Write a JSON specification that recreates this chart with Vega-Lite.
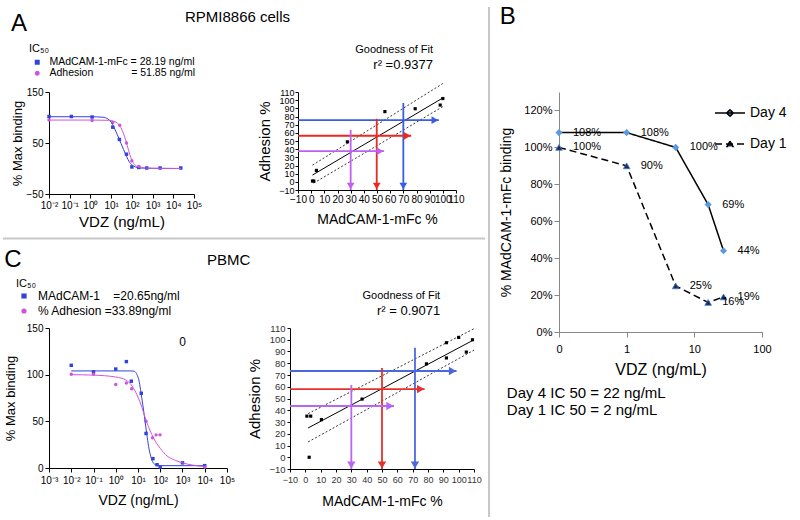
{
  "$schema": "https://vega.github.io/schema/vega-lite/v6.json",
  "padding": {"left": 2, "top": 5, "right": 0, "bottom": 0},
  "config": {
    "font": "Liberation Sans",
    "view": {"stroke": null},
    "axis": {"grid": false, "domainColor": "#000", "tickColor": "#000", "labelColor": "#000", "titleColor": "#000", "titleFontWeight": "normal", "labelOverlap": false, "labelFlush": false},
    "title": {"fontWeight": "normal", "color": "#000", "subtitleColor": "#000"},
    "legend": {"titleFontWeight": "normal", "labelColor": "#000", "titleColor": "#000"}
  },
  "datasets": {
    "aPts": [
      {"series": "MAdCAM-1-mFc", "dose": 0.01, "val": 102}, {"series": "MAdCAM-1-mFc", "dose": 0.12, "val": 102}, {"series": "MAdCAM-1-mFc", "dose": 1.2, "val": 101}, {"series": "MAdCAM-1-mFc", "dose": 12, "val": 81}, {"series": "MAdCAM-1-mFc", "dose": 25, "val": 57}, {"series": "MAdCAM-1-mFc", "dose": 55, "val": 28}, {"series": "MAdCAM-1-mFc", "dose": 100, "val": 3}, {"series": "MAdCAM-1-mFc", "dose": 215, "val": 2}, {"series": "MAdCAM-1-mFc", "dose": 520, "val": 1}, {"series": "MAdCAM-1-mFc", "dose": 2300, "val": 1}, {"series": "MAdCAM-1-mFc", "dose": 23000, "val": 1},
      {"series": "Adhesion", "dose": 0.01, "val": 95}, {"series": "Adhesion", "dose": 1.2, "val": 94}, {"series": "Adhesion", "dose": 12, "val": 90}, {"series": "Adhesion", "dose": 26, "val": 85}, {"series": "Adhesion", "dose": 55, "val": 50}, {"series": "Adhesion", "dose": 100, "val": 15}, {"series": "Adhesion", "dose": 215, "val": 4}
    ],
    "aCurve": [
      {"series": "MAdCAM-1-mFc", "dose": 0.01, "val": 101.5}, {"series": "MAdCAM-1-mFc", "dose": 1, "val": 101.5}, {"series": "MAdCAM-1-mFc", "dose": 4, "val": 100.5}, {"series": "MAdCAM-1-mFc", "dose": 7, "val": 97}, {"series": "MAdCAM-1-mFc", "dose": 10, "val": 91}, {"series": "MAdCAM-1-mFc", "dose": 14, "val": 80}, {"series": "MAdCAM-1-mFc", "dose": 20, "val": 66}, {"series": "MAdCAM-1-mFc", "dose": 25, "val": 57}, {"series": "MAdCAM-1-mFc", "dose": 30, "val": 49}, {"series": "MAdCAM-1-mFc", "dose": 40, "val": 37}, {"series": "MAdCAM-1-mFc", "dose": 55, "val": 24}, {"series": "MAdCAM-1-mFc", "dose": 75, "val": 13}, {"series": "MAdCAM-1-mFc", "dose": 100, "val": 7}, {"series": "MAdCAM-1-mFc", "dose": 150, "val": 3}, {"series": "MAdCAM-1-mFc", "dose": 250, "val": 1}, {"series": "MAdCAM-1-mFc", "dose": 1000, "val": 0.3}, {"series": "MAdCAM-1-mFc", "dose": 23000, "val": 0},
      {"series": "Adhesion", "dose": 0.01, "val": 95}, {"series": "Adhesion", "dose": 1, "val": 95}, {"series": "Adhesion", "dose": 8, "val": 94.5}, {"series": "Adhesion", "dose": 15, "val": 92}, {"series": "Adhesion", "dose": 20, "val": 89}, {"series": "Adhesion", "dose": 30, "val": 80}, {"series": "Adhesion", "dose": 40, "val": 68}, {"series": "Adhesion", "dose": 50, "val": 56}, {"series": "Adhesion", "dose": 60, "val": 45}, {"series": "Adhesion", "dose": 80, "val": 27}, {"series": "Adhesion", "dose": 100, "val": 16}, {"series": "Adhesion", "dose": 150, "val": 6}, {"series": "Adhesion", "dose": 250, "val": 2}, {"series": "Adhesion", "dose": 1000, "val": 0.5}, {"series": "Adhesion", "dose": 23000, "val": 0}
    ],
    "aFit": [
      {"type": "fit", "x": 1, "y": 8.3}, {"type": "fit", "x": 100, "y": 102.7},
      {"type": "upper", "x": 1, "y": 20.4}, {"type": "upper", "x": 100, "y": 120.4},
      {"type": "lower", "x": 1.9, "y": -1.6}, {"type": "lower", "x": 100.4, "y": 92.5}
    ],
    "aScat": [
      {"x": 1, "y": 1}, {"x": 2, "y": 1}, {"x": 4, "y": 14}, {"x": 27.5, "y": 49}, {"x": 56, "y": 86}, {"x": 79, "y": 89.5}, {"x": 98, "y": 94}, {"x": 100, "y": 102}
    ],
    "aArr": [
      {"level": "70", "dir": "h", "x": -10, "y": 75.5, "xe": 97, "ye": 75.5},
      {"level": "70", "dir": "v", "x": 70, "y": 96.5, "xe": 70, "ye": -10},
      {"level": "50", "dir": "h", "x": -10, "y": 56.4, "xe": 76, "ye": 56.4},
      {"level": "50", "dir": "v", "x": 49.8, "y": 77.2, "xe": 49.8, "ye": -10},
      {"level": "30", "dir": "h", "x": -10, "y": 37.6, "xe": 55.4, "ye": 37.6},
      {"level": "30", "dir": "v", "x": 30, "y": 63.6, "xe": 30, "ye": -10}
    ],
    "cPts": [
      {"series": "MAdCAM-1", "dose": 0.01, "val": 110}, {"series": "MAdCAM-1", "dose": 0.1, "val": 103}, {"series": "MAdCAM-1", "dose": 1, "val": 106}, {"series": "MAdCAM-1", "dose": 3, "val": 114}, {"series": "MAdCAM-1", "dose": 5, "val": 93}, {"series": "MAdCAM-1", "dose": 14, "val": 80}, {"series": "MAdCAM-1", "dose": 23, "val": 37}, {"series": "MAdCAM-1", "dose": 47, "val": 10}, {"series": "MAdCAM-1", "dose": 72, "val": 3.5}, {"series": "MAdCAM-1", "dose": 100, "val": 1}, {"series": "MAdCAM-1", "dose": 1000, "val": 5.5}, {"series": "MAdCAM-1", "dose": 10000, "val": 2.5},
      {"series": "% Adhesion", "dose": 0.01, "val": 100.5}, {"series": "% Adhesion", "dose": 0.1, "val": 100.5}, {"series": "% Adhesion", "dose": 1, "val": 89.5}, {"series": "% Adhesion", "dose": 3, "val": 91}, {"series": "% Adhesion", "dose": 5.2, "val": 85}, {"series": "% Adhesion", "dose": 23, "val": 50}, {"series": "% Adhesion", "dose": 45, "val": 32.5}, {"series": "% Adhesion", "dose": 65, "val": 35.5}, {"series": "% Adhesion", "dose": 98, "val": 35.5}, {"series": "% Adhesion", "dose": 10000, "val": 1}
    ],
    "cCurve": [
      {"series": "MAdCAM-1", "dose": 0.01, "val": 104}, {"series": "MAdCAM-1", "dose": 1, "val": 104}, {"series": "MAdCAM-1", "dose": 5, "val": 104}, {"series": "MAdCAM-1", "dose": 7, "val": 103.5}, {"series": "MAdCAM-1", "dose": 9, "val": 100}, {"series": "MAdCAM-1", "dose": 11, "val": 94}, {"series": "MAdCAM-1", "dose": 13, "val": 84}, {"series": "MAdCAM-1", "dose": 15, "val": 74}, {"series": "MAdCAM-1", "dose": 18, "val": 61}, {"series": "MAdCAM-1", "dose": 21, "val": 49}, {"series": "MAdCAM-1", "dose": 25, "val": 36}, {"series": "MAdCAM-1", "dose": 30, "val": 23}, {"series": "MAdCAM-1", "dose": 36, "val": 14}, {"series": "MAdCAM-1", "dose": 45, "val": 7}, {"series": "MAdCAM-1", "dose": 60, "val": 3.5}, {"series": "MAdCAM-1", "dose": 100, "val": 2.5}, {"series": "MAdCAM-1", "dose": 10000, "val": 2.5},
      {"series": "% Adhesion", "dose": 0.01, "val": 100}, {"series": "% Adhesion", "dose": 0.1, "val": 99.5}, {"series": "% Adhesion", "dose": 1, "val": 97.5}, {"series": "% Adhesion", "dose": 3, "val": 94}, {"series": "% Adhesion", "dose": 5, "val": 89}, {"series": "% Adhesion", "dose": 10, "val": 76}, {"series": "% Adhesion", "dose": 15, "val": 65}, {"series": "% Adhesion", "dose": 23, "val": 51}, {"series": "% Adhesion", "dose": 35, "val": 40}, {"series": "% Adhesion", "dose": 50, "val": 32}, {"series": "% Adhesion", "dose": 100, "val": 21}, {"series": "% Adhesion", "dose": 200, "val": 13}, {"series": "% Adhesion", "dose": 500, "val": 8}, {"series": "% Adhesion", "dose": 1000, "val": 5.5}, {"series": "% Adhesion", "dose": 3000, "val": 3}, {"series": "% Adhesion", "dose": 10000, "val": 1.5}
    ],
    "cTxt": [{"dose": 1000, "val": 135, "t": "0"}],
    "cFit": [
      {"type": "fit", "x": 1.8, "y": 24.9}, {"type": "fit", "x": 110, "y": 100},
      {"type": "upper", "x": 1.8, "y": 37.1}, {"type": "upper", "x": 110, "y": 109.4},
      {"type": "lower", "x": 1.8, "y": 13}, {"type": "lower", "x": 110, "y": 91.2}
    ],
    "cScat": [
      {"x": 1, "y": 35}, {"x": 3.5, "y": 35}, {"x": 2.5, "y": 0}, {"x": 10.5, "y": 32}, {"x": 37, "y": 49.5}, {"x": 79, "y": 79.5}, {"x": 92, "y": 97.5}, {"x": 92, "y": 84.5}, {"x": 100, "y": 102}, {"x": 105, "y": 89.5}, {"x": 109, "y": 100}
    ],
    "cArr": [
      {"level": "70", "dir": "h", "x": -10, "y": 73.4, "xe": 98.6, "ye": 73.4},
      {"level": "70", "dir": "v", "x": 71.5, "y": 93.2, "xe": 71.5, "ye": -10},
      {"level": "50", "dir": "h", "x": -10, "y": 58, "xe": 77.8, "ye": 58},
      {"level": "50", "dir": "v", "x": 50, "y": 76, "xe": 50, "ye": -10},
      {"level": "30", "dir": "h", "x": -10, "y": 43.6, "xe": 57.8, "ye": 43.6},
      {"level": "30", "dir": "v", "x": 30, "y": 61.5, "xe": 30, "ye": -10}
    ],
    "b": [
      {"day": "Day 4", "dose": 0.1, "pct": 1.08}, {"day": "Day 4", "dose": 1, "pct": 1.08}, {"day": "Day 4", "dose": 5.3, "pct": 1.0}, {"day": "Day 4", "dose": 16, "pct": 0.69}, {"day": "Day 4", "dose": 27, "pct": 0.44},
      {"day": "Day 1", "dose": 0.1, "pct": 1.0}, {"day": "Day 1", "dose": 1, "pct": 0.9}, {"day": "Day 1", "dose": 5.3, "pct": 0.25}, {"day": "Day 1", "dose": 16, "pct": 0.16}, {"day": "Day 1", "dose": 27, "pct": 0.19}
    ]
  },
  "resolve": {"scale": {"color": "independent", "shape": "independent", "strokeDash": "independent"}},
  "spacing": 2,
  "hconcat": [
    {
      "spacing": 8,
      "resolve": {"scale": {"color": "independent", "shape": "independent", "strokeDash": "independent"}},
      "vconcat": [
        {
          "title": {"text": "RPMI8866 cells", "fontSize": 15, "anchor": "middle", "dy": 17},
          "spacing": 55,
          "resolve": {"scale": {"color": "independent", "shape": "independent", "strokeDash": "independent"}},
          "hconcat": [
            {
              "width": 145, "height": 102,
              "title": {"text": "A", "anchor": "start", "frame": "bounds", "fontSize": 24, "offset": 7},
              "layer": [
                {
                  "data": {"name": "aPts"},
                  "mark": {"type": "point", "filled": true, "size": 12, "opacity": 1},
                  "encoding": {
                    "x": {"field": "dose", "type": "quantitative", "scale": {"type": "log", "domain": [0.01, 100000], "nice": false},
                      "axis": {"values": [0.01, 0.1, 1, 10, 100, 1000, 10000, 100000], "labelExpr": "'10' + ['⁻³','⁻²','⁻¹','⁰','¹','²','³','⁴','⁵'][round(log(datum.value)/LN10)+3]", "title": "VDZ (ng/mL)", "titleFontSize": 15, "labelFontSize": 10, "tickSize": 4, "labelPadding": 2, "titlePadding": 4}},
                    "y": {"field": "val", "type": "quantitative", "scale": {"domain": [-50, 150], "nice": false},
                      "axis": {"values": [-50, 0, 50, 100, 150], "title": "% Max binding", "titleFontSize": 13, "labelFontSize": 10, "tickSize": 4, "titlePadding": 2}},
                    "color": {"field": "series", "type": "nominal", "scale": {"domain": ["MAdCAM-1-mFc", "Adhesion"], "range": ["#3342dc", "#cf55db"]},
                      "legend": {"orient": "none", "legendX": -20, "legendY": -49, "title": "IC₅₀", "titleFontSize": 11, "titlePadding": 3, "labelFontSize": 10.5, "rowPadding": 0, "symbolSize": 12, "symbolOffset": 3, "labelOffset": 7, "labelLimit": 300,
                        "labelExpr": "datum.label === 'MAdCAM-1-mFc' ? 'MAdCAM-1-mFc = 28.19 ng/ml' : 'Adhesion\u00a0\u00a0\u00a0\u00a0\u00a0\u00a0\u00a0\u00a0\u00a0\u00a0\u00a0\u00a0 = 51.85 ng/ml'"}},
                    "shape": {"field": "series", "type": "nominal", "scale": {"domain": ["MAdCAM-1-mFc", "Adhesion"], "range": ["square", "circle"]}, "legend": null}
                  }
                },
                {
                  "data": {"name": "aCurve"},
                  "mark": {"type": "line", "interpolate": "monotone", "strokeWidth": 1},
                  "encoding": {
                    "x": {"field": "dose", "type": "quantitative"},
                    "y": {"field": "val", "type": "quantitative"},
                    "color": {"field": "series", "type": "nominal"}
                  }
                }
              ]
            },
            {
              "width": 158, "height": 98,
              "title": {"text": "Goodness of Fit", "subtitle": "r² =0.9377", "anchor": "end", "fontSize": 11, "subtitleFontSize": 13, "subtitlePadding": 4, "offset": 10, "dx": -31},
              "encoding": {
                "x": {"field": "x", "type": "quantitative", "scale": {"domain": [-10, 110], "nice": false},
                  "axis": {"values": [-10, 0, 10, 20, 30, 40, 50, 60, 70, 80, 90, 100, 110], "title": "MAdCAM-1-mFc %", "titleFontSize": 14, "labelFontSize": 10, "tickSize": 3, "labelPadding": 1, "titlePadding": 8}},
                "y": {"field": "y", "type": "quantitative", "scale": {"domain": [-10, 110], "nice": false},
                  "axis": {"values": [-10, 0, 10, 20, 30, 40, 50, 60, 70, 80, 90, 100, 110], "title": "Adhesion %", "titleFontSize": 15, "labelFontSize": 9, "tickSize": 3, "labelPadding": 1, "titlePadding": 6}}
              },
              "layer": [
                {"data": {"name": "aFit"}, "transform": [{"filter": "datum.type === 'fit'"}], "mark": {"type": "line", "color": "#000", "strokeWidth": 1}},
                {"data": {"name": "aFit"}, "transform": [{"filter": "datum.type !== 'fit'"}], "mark": {"type": "line", "color": "#000", "strokeWidth": 0.8, "strokeDash": [2, 2]}, "encoding": {"detail": {"field": "type"}}},
                {"data": {"name": "aScat"}, "mark": {"type": "square", "color": "#000", "size": 10, "opacity": 1}},
                {"data": {"name": "aArr"}, "mark": {"type": "rule", "strokeWidth": 1.8},
                  "encoding": {"x2": {"field": "xe"}, "y2": {"field": "ye"},
                    "color": {"field": "level", "type": "nominal", "scale": {"domain": ["30", "50", "70"], "range": ["#c160f0", "#ea2a22", "#3b5de6"]}, "legend": null}}},
                {"data": {"name": "aArr"}, "transform": [{"filter": "datum.dir === 'h'"}], "mark": {"type": "point", "shape": "triangle-right", "filled": true, "size": 60, "opacity": 1, "xOffset": -4},
                  "encoding": {"x": {"field": "xe", "type": "quantitative", "title": "MAdCAM-1-mFc %"}, "y": {"field": "ye", "type": "quantitative", "title": "Adhesion %"}, "color": {"field": "level", "type": "nominal", "legend": null}}},
                {"data": {"name": "aArr"}, "transform": [{"filter": "datum.dir === 'v'"}], "mark": {"type": "point", "shape": "triangle-down", "filled": true, "size": 60, "opacity": 1, "yOffset": -4},
                  "encoding": {"x": {"field": "xe", "type": "quantitative", "title": "MAdCAM-1-mFc %"}, "y": {"field": "ye", "type": "quantitative", "title": "Adhesion %"}, "color": {"field": "level", "type": "nominal", "legend": null}}}
              ]
            }
          ]
        },
        {
          "width": 436, "height": 1,
          "data": {"values": [{"a": 0, "b": 1, "v": 0}]},
          "mark": {"type": "rule", "color": "#c8c8c8", "strokeWidth": 2, "xOffset": -46},
          "encoding": {
            "x": {"field": "a", "type": "quantitative", "scale": {"domain": [0, 1]}, "axis": null},
            "x2": {"field": "b"},
            "y": {"field": "v", "type": "quantitative", "axis": null}
          }
        },
        {
          "title": {"text": "PBMC", "fontSize": 15, "anchor": "middle", "dy": 24, "dx": -14},
          "spacing": 12,
          "resolve": {"scale": {"color": "independent", "shape": "independent", "strokeDash": "independent"}},
          "hconcat": [
            {
              "width": 178, "height": 140,
              "title": {"text": "C", "anchor": "start", "frame": "bounds", "fontSize": 24, "offset": 6},
              "layer": [
                {
                  "data": {"name": "cPts"},
                  "mark": {"type": "point", "filled": true, "size": 12, "opacity": 1},
                  "encoding": {
                    "x": {"field": "dose", "type": "quantitative", "scale": {"type": "log", "domain": [0.001, 100000], "nice": false},
                      "axis": {"values": [0.001, 0.01, 0.1, 1, 10, 100, 1000, 10000, 100000], "labelExpr": "'10' + ['⁻³','⁻²','⁻¹','⁰','¹','²','³','⁴','⁵'][round(log(datum.value)/LN10)+3]", "title": "VDZ (ng/mL)", "titleFontSize": 14, "labelFontSize": 10, "tickSize": 4, "labelPadding": 3, "titlePadding": 8}},
                    "y": {"field": "val", "type": "quantitative", "scale": {"domain": [0, 150], "nice": false},
                      "axis": {"values": [0, 50, 100, 150], "title": "% Max binding", "titleFontSize": 13, "labelFontSize": 10, "tickSize": 4, "titlePadding": 9}},
                    "color": {"field": "series", "type": "nominal", "scale": {"domain": ["MAdCAM-1", "% Adhesion"], "range": ["#3342dc", "#cf55db"]},
                      "legend": {"orient": "none", "legendX": -33, "legendY": -50, "title": "IC₅₀", "titleFontSize": 11, "titlePadding": 1, "labelFontSize": 12, "rowPadding": 3, "symbolSize": 14, "symbolOffset": 2, "labelOffset": 8, "labelLimit": 300,
                        "labelExpr": "datum.label === 'MAdCAM-1' ? 'MAdCAM-1\u00a0\u00a0\u00a0 =20.65ng/ml' : '% Adhesion =33.89ng/ml'",
                        "encode": {"symbols": {"update": {"shape": {"signal": "datum.value === 'MAdCAM-1' ? 'square' : 'circle'"}}}}}},
                    "shape": {"field": "series", "type": "nominal", "scale": {"domain": ["MAdCAM-1", "% Adhesion"], "range": ["square", "circle"]}, "legend": null}
                  }
                },
                {
                  "data": {"name": "cCurve"},
                  "mark": {"type": "line", "interpolate": "monotone", "strokeWidth": 1},
                  "encoding": {
                    "x": {"field": "dose", "type": "quantitative"},
                    "y": {"field": "val", "type": "quantitative"},
                    "color": {"field": "series", "type": "nominal"}
                  }
                },
                {
                  "data": {"name": "cTxt"},
                  "mark": {"type": "text", "fontSize": 12, "color": "#000"},
                  "encoding": {
                    "x": {"field": "dose", "type": "quantitative"},
                    "y": {"field": "val", "type": "quantitative"},
                    "text": {"field": "t"}
                  }
                }
              ]
            },
            {
              "width": 184, "height": 141,
              "title": {"text": "Goodness of Fit", "subtitle": "r² = 0.9071", "anchor": "end", "fontSize": 11, "subtitleFontSize": 13, "subtitlePadding": 4, "offset": 5, "dx": -41},
              "encoding": {
                "x": {"field": "x", "type": "quantitative", "scale": {"domain": [-10, 110], "nice": false},
                  "axis": {"values": [-10, 0, 10, 20, 30, 40, 50, 60, 70, 80, 90, 100, 110], "title": "MAdCAM-1-mFc %", "titleFontSize": 14, "labelFontSize": 9, "tickSize": 3, "labelPadding": 3, "titlePadding": 10, "labelColor": "#333"}},
                "y": {"field": "y", "type": "quantitative", "scale": {"domain": [-10, 110], "nice": false},
                  "axis": {"values": [-10, 0, 10, 20, 30, 40, 50, 60, 70, 80, 90, 100, 110], "title": "Adhesion %", "titleFontSize": 15, "labelFontSize": 9.5, "tickSize": 3, "labelPadding": 2, "titlePadding": 6, "labelColor": "#333"}}
              },
              "layer": [
                {"data": {"name": "cFit"}, "transform": [{"filter": "datum.type === 'fit'"}], "mark": {"type": "line", "color": "#000", "strokeWidth": 1}},
                {"data": {"name": "cFit"}, "transform": [{"filter": "datum.type !== 'fit'"}], "mark": {"type": "line", "color": "#000", "strokeWidth": 0.8, "strokeDash": [2, 2]}, "encoding": {"detail": {"field": "type"}}},
                {"data": {"name": "cScat"}, "mark": {"type": "square", "color": "#000", "size": 10, "opacity": 1}},
                {"data": {"name": "cArr"}, "mark": {"type": "rule", "strokeWidth": 1.8},
                  "encoding": {"x2": {"field": "xe"}, "y2": {"field": "ye"},
                    "color": {"field": "level", "type": "nominal", "scale": {"domain": ["30", "50", "70"], "range": ["#bb66f2", "#e8302a", "#4a68dc"]}, "legend": null}}},
                {"data": {"name": "cArr"}, "transform": [{"filter": "datum.dir === 'h'"}], "mark": {"type": "point", "shape": "triangle-right", "filled": true, "size": 70, "opacity": 1, "xOffset": -4},
                  "encoding": {"x": {"field": "xe", "type": "quantitative", "title": "MAdCAM-1-mFc %"}, "y": {"field": "ye", "type": "quantitative", "title": "Adhesion %"}, "color": {"field": "level", "type": "nominal", "legend": null}}},
                {"data": {"name": "cArr"}, "transform": [{"filter": "datum.dir === 'v'"}], "mark": {"type": "point", "shape": "triangle-down", "filled": true, "size": 70, "opacity": 1, "yOffset": -4},
                  "encoding": {"x": {"field": "xe", "type": "quantitative", "title": "MAdCAM-1-mFc %"}, "y": {"field": "ye", "type": "quantitative", "title": "Adhesion %"}, "color": {"field": "level", "type": "nominal", "legend": null}}}
              ]
            }
          ]
        }
      ]
    },
    {
      "width": 8, "height": 425,
      "data": {"values": [{"v": 0, "a": 1, "b": 0}]},
      "mark": {"type": "rule", "color": "#c8c8c8", "strokeWidth": 2, "yOffset": -85},
      "encoding": {
        "x": {"field": "v", "type": "quantitative", "scale": {"domain": [0, 1]}, "axis": null},
        "y": {"field": "a", "type": "quantitative", "scale": {"domain": [0, 1]}, "axis": null},
        "y2": {"field": "b"}
      }
    },
    {
      "title": {"text": "B", "anchor": "start", "fontSize": 24, "frame": "bounds", "offset": 63},
      "resolve": {"scale": {"color": "independent", "shape": "independent", "strokeDash": "independent"}},
      "vconcat": [
        {
          "width": 203, "height": 240,
          "data": {"name": "b"},
          "title": {"text": ["Day 4 IC 50 = 22 ng/mL", "Day 1 IC 50 = 2 ng/mL"], "orient": "bottom", "anchor": "start", "frame": "bounds", "fontSize": 15, "lineHeight": 17, "offset": 9, "dx": 7},
          "encoding": {
            "x": {"field": "dose", "type": "quantitative", "scale": {"type": "log", "domain": [0.1, 100], "nice": false},
              "axis": {"values": [0.1, 1, 10, 100], "labelExpr": "datum.value < 0.5 ? '0' : format(datum.value, 'd')", "title": "VDZ (ng/mL)", "titleFontSize": 16, "labelFontSize": 11, "tickSize": 5, "labelPadding": 6, "titlePadding": 7, "domainColor": "#888", "tickColor": "#888"}},
            "y": {"field": "pct", "type": "quantitative", "scale": {"domain": [0, 1.3], "nice": false},
              "axis": {"values": [0, 0.2, 0.4, 0.6, 0.8, 1, 1.2], "format": ".0%", "title": "% MAdCAM-1-mFc binding", "titleFontSize": 14, "labelFontSize": 11, "tickSize": 5, "titlePadding": 10, "domainColor": "#888", "tickColor": "#888"}}
          },
          "layer": [
            {
              "mark": {"type": "line", "color": "#000", "strokeWidth": 1.5},
              "encoding": {
                "strokeDash": {"field": "day", "type": "nominal", "scale": {"domain": ["Day 4", "Day 1"], "range": [[1, 0], [7, 4]]},
                  "legend": {"orient": "none", "legendX": 155, "legendY": 5, "title": null, "symbolSize": 900, "symbolStrokeWidth": 1.5, "symbolStrokeColor": "#000", "labelFontSize": 14, "rowPadding": 8, "labelOffset": 4,
                    "encode": {"symbols": {"update": {
                      "shape": {"signal": "datum.value === 'Day 4' ? 'M-1,0L1,0M0,-0.22L0.22,0L0,0.22L-0.22,0Z' : 'M-1,0L1,0M0,-0.2L0.2,0.16L-0.2,0.16Z'"},
                      "fill": {"signal": "datum.value === 'Day 4' ? '#5a9ae0' : '#1b2c5c'"},
                      "stroke": {"value": "#000"},
                      "strokeWidth": {"value": 1.5}
                    }}}}}
              }
            },
            {
              "transform": [{"filter": "datum.day === 'Day 4'"}],
              "mark": {"type": "point", "shape": "diamond", "filled": true, "size": 50, "opacity": 1, "color": "#5a9ae0"}
            },
            {
              "transform": [{"filter": "datum.day === 'Day 1'"}],
              "mark": {"type": "point", "shape": "triangle-up", "filled": true, "size": 45, "opacity": 1, "color": "#1b2c5c", "stroke": "#4a7fd0", "strokeWidth": 0.8}
            },
            {
              "mark": {"type": "text", "align": "left", "dx": 14, "fontSize": 11, "color": "#000"},
              "encoding": {"text": {"field": "pct", "format": ".0%"}}
            }
          ]
        }
      ]
    }
  ]
}
